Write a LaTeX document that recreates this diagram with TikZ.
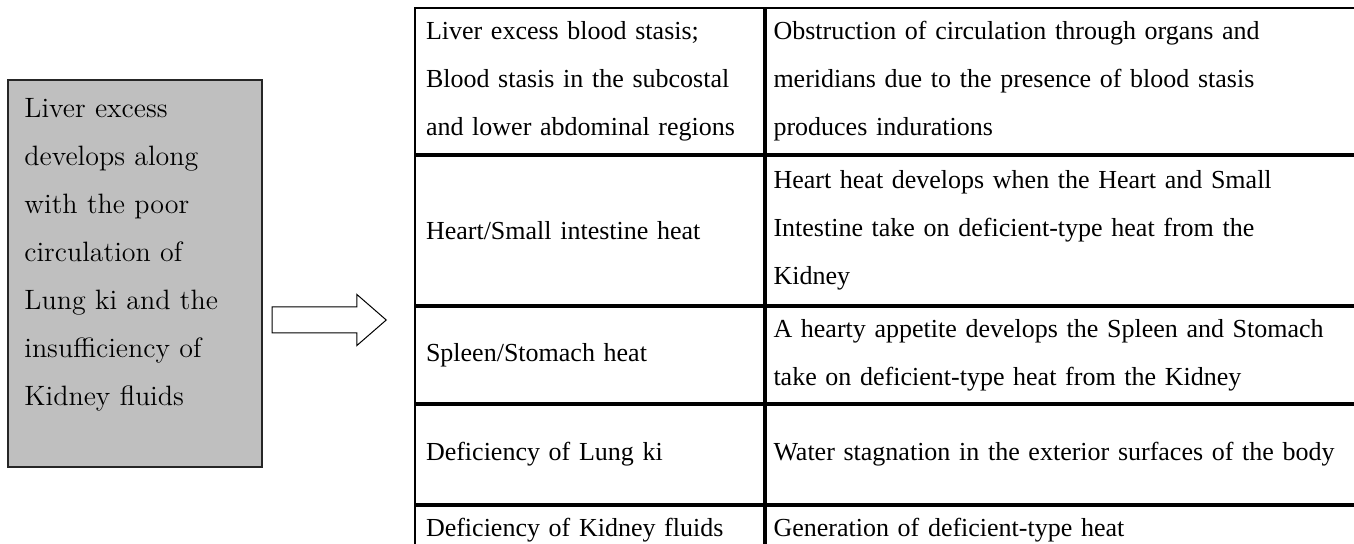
\documentclass[tikz,border=0pt]{standalone}
\usepackage{fontspec}
\usepackage{xcolor}
\usepackage{tikz}
\usetikzlibrary{shapes.arrows,positioning}
\newfontfamily\tablefont{Liberation Serif}
\tikzset{
  causebox/.style={rectangle, draw=black!85, fill=black!25, line width=0.8pt,
    minimum width=127pt, minimum height=193.5pt, inner sep=0pt},
  causetext/.style={inner sep=0pt, text width=115pt, align=left,
    font=\fontsize{14}{24}\selectfont},
  flowarrow/.style={single arrow, draw=black, fill=white, line width=0.5pt,
    minimum height=57pt, inner xsep=0pt, inner ysep=6.25pt,
    single arrow head extend=6.25pt, single arrow tip angle=82},
  namecell/.style={rectangle, draw=black, line width=1pt, text width=163.5pt,
    inner xsep=5.5pt, inner ysep=0pt, align=left,
    font=\tablefont\fontsize{13}{24}\selectfont},
  desccell/.style={namecell, text width=287pt, inner xsep=3.75pt},
}

\begin{document}
\begin{tikzpicture}[x=0.5pt, y=-0.5pt]
  \useasboundingbox (0,0) rectangle (1354,544);

  % Cause box (left)
  \node[causebox, anchor=north west] (cause) at (7,79) {};
  \node[causetext, anchor=north west] (causetxt) at ([xshift=8.5pt, yshift=-9.5pt]cause.north west)
    {Liver excess\\develops along\\with the poor\\circulation of\\Lung ki and the\\insufficiency of\\Kidney fluids};

  % Arrow
  \node[flowarrow, anchor=tip] (arrow) at (387,320) {};

  % Table, first column
  \node[namecell, anchor=north west, minimum height=73pt] (liver) at (414,7)
    {Liver excess blood stasis;\\Blood stasis in the subcostal\\and lower abdominal regions};
  \node[namecell, below=0pt of liver, minimum height=74.5pt] (heart) {Heart/Small intestine heat};
  \node[namecell, below=0pt of heart, minimum height=48pt] (spleen) {Spleen/Stomach heat};
  \node[namecell, below=0pt of spleen, minimum height=49.5pt] (lung) {Deficiency of Lung ki};
  \node[namecell, below=0pt of lung, minimum height=24pt] (kidney) {Deficiency of Kidney fluids};

  % Table, second column
  \node[desccell, right=0pt of liver, minimum height=73pt] (liverdesc)
    {Obstruction of circulation through organs and\\meridians due to the presence of blood stasis\\produces indurations};
  \node[desccell, right=0pt of heart, minimum height=74.5pt] (heartdesc)
    {Heart heat develops when the Heart and Small\\Intestine take on deficient-type heat from the\\Kidney};
  \node[desccell, right=0pt of spleen, minimum height=48pt] (spleendesc)
    {A hearty appetite develops the Spleen and Stomach\\take on deficient-type heat from the Kidney};
  \node[desccell, right=0pt of lung, minimum height=49.5pt] (lungdesc)
    {Water stagnation in the exterior surfaces of the body};
  \node[desccell, right=0pt of kidney, minimum height=24pt] (kidneydesc)
    {Generation of deficient-type heat};

\end{tikzpicture}
\end{document}
